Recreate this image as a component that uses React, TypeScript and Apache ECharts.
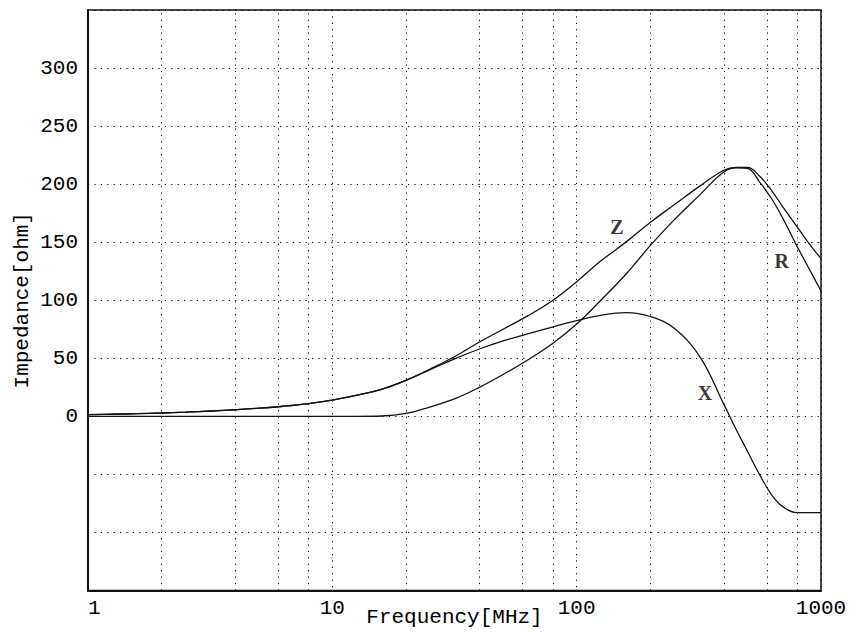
import React, { useEffect, useRef } from 'react';
import * as echarts from 'echarts';

// Frequency samples [MHz]
const freqs = [1, 1.25, 1.6, 2, 2.5, 3.2, 4, 5, 6.3, 8, 10, 12.5, 16, 20, 25, 32, 40, 50, 63, 80, 100, 125, 160, 200, 250, 320, 400, 450, 500, 560, 630, 700, 800, 900, 1000];
// |Z| [ohm]
const zValues = [1.5, 1.8, 2.3, 2.9, 3.6, 4.6, 5.7, 7, 8.7, 11, 14, 18, 23.5, 31, 40.5, 52, 64, 75, 86.5, 100, 116, 133.5, 150.5, 167, 182, 198.5, 212, 214.5, 214.5, 207, 194, 180, 163, 148, 136];
// R [ohm]
const rValues = [0, 0, 0, 0, 0, 0, 0, 0, 0, 0, 0, 0, 0.3, 2.5, 8, 15.5, 25, 36, 48.5, 63, 79.5, 99.5, 123, 147, 169, 191, 210.5, 214, 213.5, 202, 187, 170, 146, 126, 108];
// X [ohm]
const xValues = [1.5, 1.8, 2.3, 2.9, 3.6, 4.6, 5.7, 7, 8.7, 11, 14, 18, 23.5, 31, 40, 50, 58, 65, 71, 77, 82.5, 87, 89.3, 86, 76, 51, 10.5, -11.5, -30, -50, -68, -78, -83, -83, -83];

const xTickLabels = [1, 10, 100, 1000];
const minorGridFreqs = [2, 4, 6, 8, 20, 40, 60, 80, 200, 400, 600, 800];
const yLabelValues = [0, 50, 100, 150, 200, 250, 300];
const curveLabels: [number, number, string][] = [
  [146, 163, 'Z'],
  [691, 134, 'R'],
  [335, 20.5, 'X'],
];

export default function App() {
  const ref = useRef<HTMLDivElement>(null);
  useEffect(() => {
    document.body.style.margin = '0';
    const chart = echarts.init(ref.current!, null, { renderer: 'svg' });
    const dotted = { type: [1.2, 5.2] as any, color: '#000', width: 1 };
    const curveStyle = { color: '#111', width: 1.3 };
    const mk = (vals: number[]) => freqs.map((f, i) => [f, vals[i]]);
    chart.setOption({
      animation: false,
      backgroundColor: '#fff',
      textStyle: { fontFamily: 'Liberation Mono', color: '#000' },
      grid: {
        left: 88,
        right: 30,
        top: 10,
        bottom: 43.5,
        show: true,
        borderColor: '#111',
        borderWidth: 1.5,
        containLabel: false,
        outerBoundsMode: 'none',
      },
      xAxis: {
        type: 'log',
        logBase: 10,
        min: 1,
        max: 1000,
        name: 'Frequency[MHz]',
        nameLocation: 'middle',
        nameGap: 16,
        nameMoveOverlap: false,
        nameTextStyle: { fontFamily: 'Liberation Mono', fontSize: 21, color: '#000' },
        axisLine: { show: true, onZero: false, lineStyle: { color: '#111', width: 2 } },
        axisTick: { show: false },
        axisLabel: {
          fontFamily: 'Liberation Mono',
          fontSize: 21,
          color: '#000',
          margin: 7,
          alignMinLabel: 'left',
          formatter: (v: number) => (xTickLabels.includes(Math.round(v)) ? String(Math.round(v)) : ''),
        },
        splitLine: { show: true, lineStyle: dotted },
      },
      yAxis: {
        type: 'value',
        min: -150,
        max: 350,
        interval: 50,
        name: 'Impedance[ohm]',
        nameLocation: 'middle',
        nameGap: 55,
        nameMoveOverlap: false,
        nameTextStyle: { fontFamily: 'Liberation Mono', fontSize: 21, color: '#000' },
        axisLine: { show: true, onZero: false, lineStyle: { color: '#111', width: 2 } },
        axisTick: { show: false },
        axisLabel: {
          fontFamily: 'Liberation Mono',
          fontSize: 21,
          color: '#000',
          margin: 10,
          formatter: (v: number) => (yLabelValues.includes(v) ? String(v) : ''),
        },
        splitLine: { show: true, lineStyle: dotted },
      },
      series: [
        {
          name: 'Z',
          type: 'line',
          data: mk(zValues),
          showSymbol: false,
          smooth: 0.4,
          lineStyle: curveStyle,
          itemStyle: { color: '#111' },
          z: 5,
          markLine: {
            silent: true,
            symbol: 'none',
            label: { show: false },
            lineStyle: dotted,
            data: minorGridFreqs.map((f) => ({ xAxis: f })),
            z: 1,
          },
        },
        {
          name: 'R',
          type: 'line',
          data: mk(rValues),
          showSymbol: false,
          smooth: 0.4,
          lineStyle: curveStyle,
          itemStyle: { color: '#111' },
          z: 5,
        },
        {
          name: 'X',
          type: 'line',
          data: mk(xValues),
          showSymbol: false,
          smooth: 0.4,
          lineStyle: curveStyle,
          itemStyle: { color: '#111' },
          z: 5,
        },
        {
          name: 'labels',
          type: 'scatter',
          data: curveLabels,
          symbolSize: 1,
          itemStyle: { color: 'rgba(0,0,0,0)' },
          silent: true,
          label: {
            show: true,
            position: 'inside',
            formatter: (p: any) => p.data[2],
            fontFamily: 'Liberation Serif',
            fontWeight: 'bold',
            fontSize: 20,
            color: '#000',
          },
          z: 6,
        },
      ],
    });
    return () => chart.dispose();
  }, []);
  return <div ref={ref} style={{ width: 851, height: 634 }} />;
}
